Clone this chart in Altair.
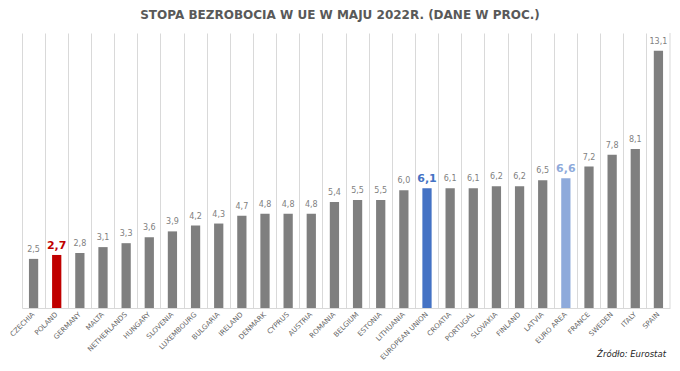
import altair as alt
import pandas as pd

countries = ["CZECHIA", "POLAND", "GERMANY", "MALTA", "NETHERLANDS", "HUNGARY", "SLOVENIA",
             "LUXEMBOURG", "BULGARIA", "IRELAND", "DENMARK", "CYPRUS", "AUSTRIA", "ROMANIA",
             "BELGIUM", "ESTONIA", "LITHUANIA", "EUROPEAN UNION", "CROATIA", "PORTUGAL",
             "SLOVAKIA", "FINLAND", "LATVIA", "EURO AREA", "FRANCE", "SWEDEN", "ITALY", "SPAIN"]
values = [2.5, 2.7, 2.8, 3.1, 3.3, 3.6, 3.9, 4.2, 4.3, 4.7, 4.8, 4.8, 4.8, 5.4, 5.5, 5.5,
          6.0, 6.1, 6.1, 6.1, 6.2, 6.2, 6.5, 6.6, 7.2, 7.8, 8.1, 13.1]
highlight = ["other"] * len(countries)
highlight[countries.index("POLAND")] = "pl"
highlight[countries.index("EUROPEAN UNION")] = "eu"
highlight[countries.index("EURO AREA")] = "ea"

title_text = "STOPA BEZROBOCIA W UE W MAJU 2022R. (DANE W PROC.)"
source_text = "Źródło: Eurostat"

df = pd.DataFrame({"country": countries, "value": values, "hl": highlight})

W, H = 648, 275

color_scale = alt.Scale(domain=["other", "pl", "eu", "ea"],
                        range=["#7f7f7f", "#c00000", "#4472c4", "#8eaadb"])
label_scale = alt.Scale(domain=["other", "pl", "eu", "ea"],
                        range=["#8c8c8c", "#c00000", "#4472c4", "#8eaadb"])

x_enc = alt.X("country:N", sort=countries, title=None,
              scale=alt.Scale(paddingInner=0, paddingOuter=0),
              axis=alt.Axis(labelAngle=-45, labelAlign="right", labelBaseline="middle",
                            labelFontSize=7, labelFont="DejaVu Sans", labelColor="#666666",
                            labelPadding=5, ticks=False, grid=True, gridColor="#d9d9d9",
                            bandPosition=0, domainColor="#d9d9d9", labelOverlap=False))
y_enc = alt.Y("value:Q", scale=alt.Scale(domain=[0, 14]), axis=None)

base = alt.Chart(df).transform_calculate(
    lbl="replace(format(datum.value, '.1f'), '.', ',')"
)

bars = base.mark_bar(width=alt.RelativeBandSize(0.4)).encode(
    x=x_enc, y=y_enc,
    color=alt.Color("hl:N", scale=color_scale, legend=None),
)

labels = base.transform_filter("datum.hl == 'other'").mark_text(
    dy=-5, baseline="bottom", fontSize=8, font="DejaVu Sans"
).encode(
    x=alt.X("country:N", sort=countries),
    y=y_enc, text="lbl:N",
    color=alt.Color("hl:N", scale=label_scale, legend=None),
)

labels_hl = base.transform_filter("datum.hl != 'other'").mark_text(
    dy=-4, baseline="bottom", fontSize=11, fontWeight="bold", font="DejaVu Sans"
).encode(
    x=alt.X("country:N", sort=countries),
    y=y_enc, text="lbl:N",
    color=alt.Color("hl:N", scale=label_scale, legend=None),
)

edge = alt.Chart(pd.DataFrame({"a": [0]})).mark_rule(color="#d9d9d9").encode(
    x=alt.value(W), y=alt.value(0), y2=alt.value(H)
)

title = alt.Chart(pd.DataFrame({"t": [title_text]})).mark_text(
    fontSize=12, fontWeight="bold", font="DejaVu Sans", color="#595959", baseline="middle"
).encode(x=alt.value(318), y=alt.value(-18), text="t:N")

source = alt.Chart(pd.DataFrame({"t": [source_text]})).mark_text(
    fontSize=8.5, fontStyle="italic", font="DejaVu Sans", color="#262626",
    align="right", baseline="bottom"
).encode(x=alt.value(644), y=alt.value(326), text="t:N")

chart = alt.layer(edge, bars, labels, labels_hl, title, source).properties(
    width=W, height=H,
    autosize=alt.AutoSizeParams(type="none"),
    padding={"left": 14, "top": 25, "right": 2, "bottom": 52},
).configure_view(stroke=None).configure_axis(gridOpacity=1)

chart.save("out.html", embed_options={"renderer": "svg", "actions": False})
